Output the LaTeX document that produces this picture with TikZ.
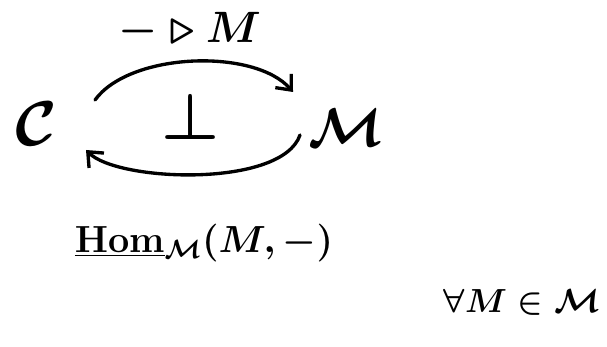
\RequirePackage{fix-cm}
\documentclass[tikz,border=0pt]{standalone}
\usetikzlibrary{arrows.meta}
\begin{document}
\begin{tikzpicture}[x=0.02cm,y=-0.02cm,
  obj/.style={inner sep=0pt,font=\fontsize{36}{42}\selectfont\boldmath},
  lbl/.style={inner sep=0pt,font=\fontsize{25}{30}\selectfont\boldmath},
  arr/.style={line width=1.9pt,line cap=round,-{Straight Barb[length=7pt,width=12pt,line width=1.9pt]}}]
\useasboundingbox (0,0) rectangle (607,347);
\node[obj] (C) at (36,124) {$\mathcal{C}$};
\node[obj,font=\fontsize{31}{36}\selectfont\boldmath] (M) at (346,128) {$\mathcal{M}$};
\node[lbl] (F) at (190,30) {$-\triangleright M$};
\node[obj,font=\fontsize{37}{42}\selectfont\boldmath] (perp) at (191,117) {$\perp$};
\node[lbl,font=\fontsize{21.5}{26}\selectfont\boldmath] (G) at (204,243) {$\underline{\mathrm{Hom}}_{\mathcal{M}}(M,-)$};
\node[lbl,font=\fontsize{19}{23}\selectfont\boldmath] (Q) at (522,302) {$\forall M\in\mathcal{M}$};
\coordinate (t1) at (95,100);
\coordinate (t2) at (293,92);
\coordinate (b1) at (300,135);
\coordinate (b2) at (86,150);
\draw[arr] (t1) .. controls (130,52) and (255,48) .. (t2);
\draw[arr] (b1) .. controls (282,188) and (118,182) .. (b2);
\end{tikzpicture}
\end{document}
